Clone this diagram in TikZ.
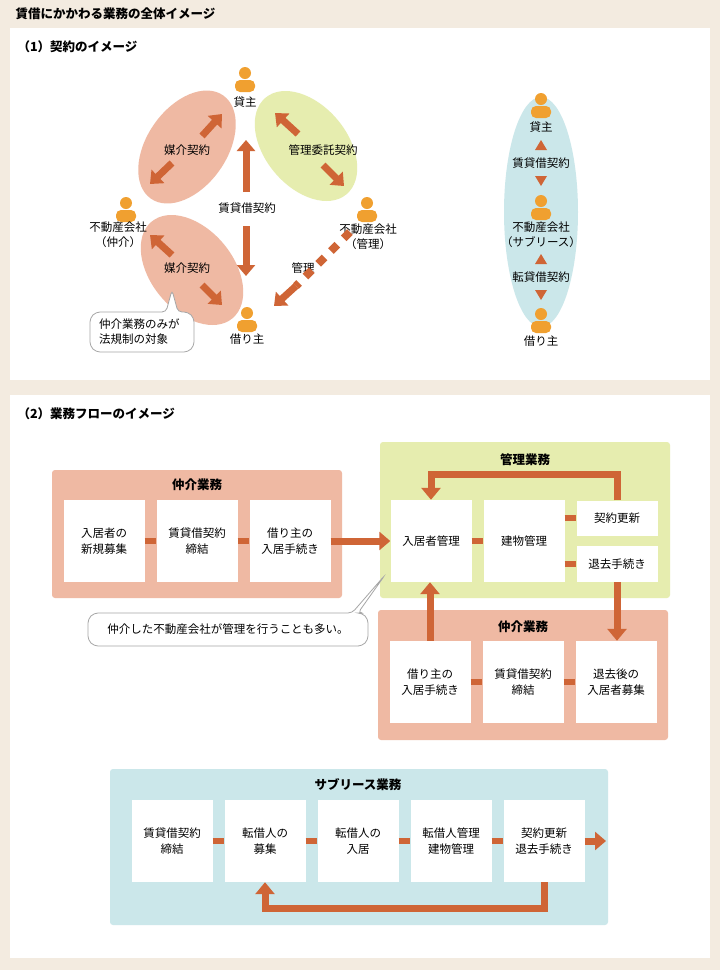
\documentclass[tikz,border=0pt]{standalone}
\usepackage{fontspec}
\setmainfont{Noto Sans CJK JP}
\usetikzlibrary{arrows.meta}

\definecolor{bgbeige}{HTML}{F3EBE0}
\definecolor{salmon}{HTML}{EFB9A3}
\definecolor{lime}{HTML}{E6EDAF}
\definecolor{aqua}{HTML}{CBE7EA}
\definecolor{rust}{HTML}{CF6536}
\definecolor{amber}{HTML}{F0A030}

\tikzset{
  fat/.style={rust, line width=7pt, -{Triangle[width=18pt,length=11pt]}},
  link/.style={rust, line width=6pt},
  loop/.style={rust, line width=7pt, -{Triangle[width=19pt,length=12pt]}},
  card/.style={fill=white, draw=none, minimum width=81pt, minimum height=82pt, align=center, inner sep=0pt, font=\fontsize{11.5}{16}\selectfont},
  lbl/.style={align=center, font=\fontsize{11.5}{15}\selectfont, inner sep=1pt},
  head/.style={font=\bfseries\fontsize{12.5}{14}\selectfont},
  callout/.style={draw=gray!70, fill=white, rounded corners=4pt, line width=0.8pt},
}

\newcommand\person[3]{% name, x, y
  \fill[amber] (#2,#3-7) circle (6);
  \fill[amber, rounded corners=5pt] (#2-10,#3+12) -- (#2-10,#3) -- (#2+10,#3) -- (#2+10,#3+12) -- cycle;
  \coordinate (#1) at (#2,#3);
}

\begin{document}
\begin{tikzpicture}[x=1pt,y=-1pt]

\path [use as bounding box] (0,0) rectangle (720,970);
\fill [bgbeige] (0,0) rectangle (720,970);
\node [head, anchor=west] (title) at (12,14) {賃借にかかわる業務の全体イメージ};

% PANEL 1
\fill [white] (10,28) rectangle (710,380);
\node [head, anchor=west] (t1) at (14,47) {（1）契約のイメージ};

\fill [salmon, rotate around={55:(187,147)}] (187,147) ellipse (63 and 40);
\fill [salmon, rotate around={-50:(192,270)}] (192,270) ellipse (63 and 41);
\fill [lime, rotate around={-50:(306,146)}] (306,146) ellipse (63 and 41);
\fill [aqua] (541,212) ellipse (37 and 115);

\person{lessor}{245}{80}
\person{broker}{126}{210}
\person{manager}{367}{210}
\person{tenant}{247}{320}
\node [lbl] (lessorl) at (245,102) {貸主};
\node [lbl] (brokerl) at (118,235) {不動産会社\\（仲介）};
\node [lbl] (managerl) at (368,237) {不動産会社\\（管理）};
\node [lbl] (tenantl) at (247,339) {借り主};

\node [lbl] (med1) at (187,150) {媒介契約};
\node [lbl] (med2) at (187,268) {媒介契約};
\node [lbl] (mgmt) at (323,150) {管理委託契約};
\node [lbl] (lease) at (247,208) {賃貸借契約};
\node [lbl] (kanri) at (303,268) {管理};

\draw [fat] (202,136) -- (222,114);
\draw [fat] (172,163) -- (150,184);
\draw [fat] (246,192) -- (246,140);
\draw [fat] (246,226) -- (246,276);
\draw [fat] (298,134) -- (275,113);
\draw [fat] (323,165) -- (344,186);
\draw [fat] (172,255) -- (150,235);
\draw [fat] (202,285) -- (222,305);
\draw [rust, line width=8pt, dash pattern=on 9pt off 9pt] (350,232) -- (296,286);
\draw [fat] (296,286) -- (274,306);

\draw [callout] (172,290) -- (166,312) -- (96,312) -- (90,318) -- (90,346) -- (96,352) -- (188,352) -- (194,346) -- (194,318) -- (188,312) -- (178,312) -- cycle;
\node [lbl, align=left, anchor=west] (note1) at (98,332) {仲介業務のみが\\法規制の対象};

% SUBLEASE CHAIN
\person{sa}{541}{106}
\person{sb}{541}{208}
\person{sc}{541}{321}
\node [lbl] (sal) at (541,127) {貸主};
\node [lbl] (sbl) at (541,235) {不動産会社\\（サブリース）};
\node [lbl] (scl) at (541,341) {借り主};
\node [lbl] (sl1) at (541,163) {賃貸借契約};
\node [lbl] (sl2) at (541,277) {転貸借契約};
\foreach \y in {145,259} \fill [rust] (535,\y+5) -- (547,\y+5) -- (541,\y-5) -- cycle;
\foreach \y in {181,295} \fill [rust] (535,\y-5) -- (547,\y-5) -- (541,\y+5) -- cycle;

% PANEL 2
\fill [white] (10,395) rectangle (710,958);
\node [head, anchor=west] (t2) at (14,414) {（2）業務フローのイメージ};

% brokerage (left)
\fill [salmon, rounded corners=3pt] (52,470) rectangle (342,598);
\node [head] (b1t) at (197,485) {仲介業務};
\node [card] (b1a) at (104,541) {入居者の\\新規募集};
\node [card] (b1b) at (197,541) {賃貸借契約\\締結};
\node [card] (b1c) at (290,541) {借り主の\\入居手続き};
\draw [link] (b1a) -- (b1b);
\draw [link] (b1b) -- (b1c);

% management
\fill [lime, rounded corners=3pt] (380,442) rectangle (670,598);
\node [head] (mt) at (525,460) {管理業務};
\node [card] (ma) at (431,541) {入居者管理};
\node [card] (mb) at (524,541) {建物管理};
\node [card, minimum height=35pt] (mc) at (617,518) {契約更新};
\node [card, minimum height=36pt] (md) at (617,564) {退去手続き};
\draw [link] (ma) -- (mb);
\draw [link] (mb.east |- mc) -- (mc);
\draw [link] (mb.east |- md) -- (md);
\draw [fat] (b1c) -- (ma);
\draw [loop] (mc.north) -- (617,474) -- (431,474) -- (ma.north);

% brokerage (lower)
\fill [salmon, rounded corners=3pt] (378,610) rectangle (668,740);
\node [head] (b2t) at (523,627) {仲介業務};
\node [card] (b2a) at (430,682) {借り主の\\入居手続き};
\node [card] (b2b) at (523,682) {賃貸借契約\\締結};
\node [card] (b2c) at (616,682) {退去後の\\入居者募集};
\draw [link] (b2a) -- (b2b);
\draw [link] (b2b) -- (b2c);
\draw [loop] (b2a.north) -- (ma.south -| b2a.north);
\draw [loop] (md.south) -- (md.south |- b2c.north);

\draw [callout] (385,575) -- (352,613) -- (94,613) -- (88,619) -- (88,640) -- (94,646) -- (362,646) -- (368,640) -- (368,619) -- (362,613) -- (358,613) -- cycle;
\node [lbl] (note2) at (228,629) {仲介した不動産会社が管理を行うことも多い。};

% sublease
\fill [aqua, rounded corners=3pt] (110,769) rectangle (608,925);
\node [head] (st) at (358,785) {サブリース業務};
\node [card] (sa) at (172,841) {賃貸借契約\\締結};
\node [card] (sb) at (265,841) {転借人の\\募集};
\node [card] (sc) at (358,841) {転借人の\\入居};
\node [card] (sd) at (451,841) {転借人管理\\建物管理};
\node [card] (se) at (544,841) {契約更新\\退去手続き};
\foreach \a/\b in {sa/sb,sb/sc,sc/sd,sd/se} \draw [link] (\a) -- (\b);
\draw [fat] (se) -- (606,841);
\draw [loop] (se.south) -- (544,908) -- (265,908) -- (sb.south);

\end{tikzpicture}
\end{document}
